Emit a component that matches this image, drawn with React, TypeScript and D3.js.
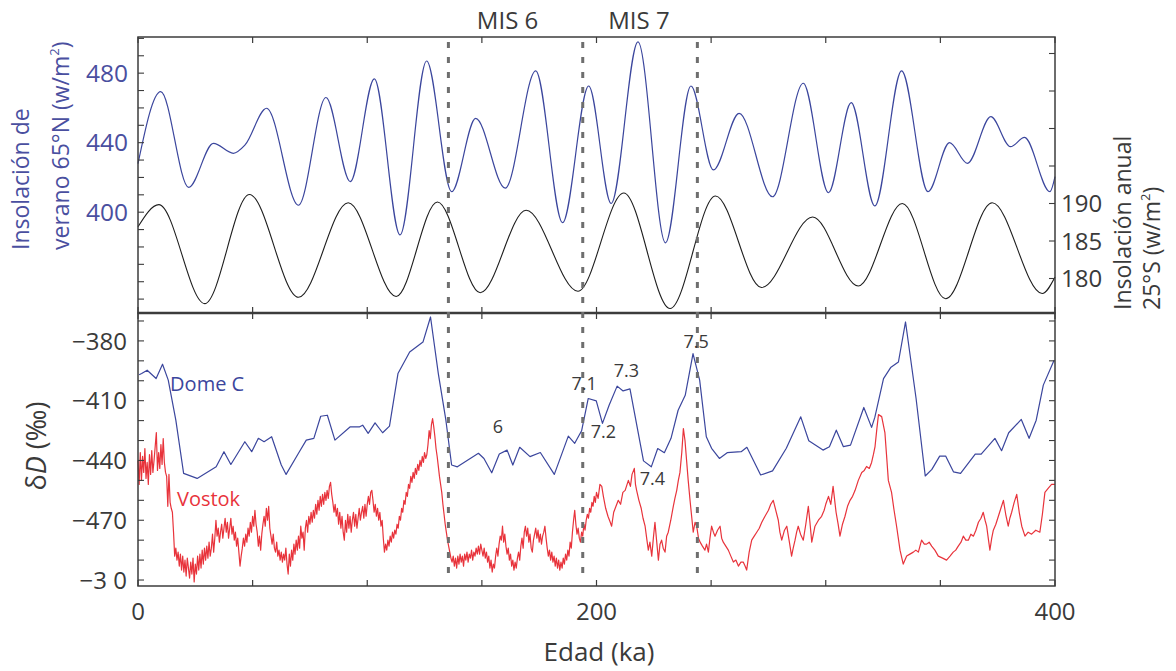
import React from 'react';
import * as d3 from 'd3';

// ---------------- data ----------------
const AGE_LABELS = [0, 200, 400];
const AGE_TICKS = [0, 50, 100, 150, 200, 250, 300, 350, 400];

const INS_LABELS = [480, 440, 400];
const ANN_LABELS = [190, 185, 180];
const DD_LABELS = [-380, -410, -440, -470, -500];
const DD_LABEL_TEXT = ['−380', '−410', '−440', '−470', '−3 0'];

const MIS_BOUNDARIES = [135.4, 194, 244];
const MIS_NAMES = ['MIS 6', 'MIS 7'];
const MIS_NAME_AGES = [161.2, 218.5];

const STAGE_NAMES = ['6', '7.1', '7.2', '7.3', '7.4', '7.5'];
const STAGE_AGES = [157, 194.6, 203, 213, 224.4, 243.5];
const STAGE_DD = [-426.3, -404.7, -428.9, -398.3, -452.3, -383.6];

// Summer insolation 65°N (W/m²) vs age (ka)
const INSOLATION_65N: [number, number][] = [
  [0, 428], [9.9, 469.4], [22.1, 414.3], [32.9, 439.6], [41.6, 433.9], [46.7, 438.7],
  [56.1, 459.8], [70, 404], [82, 466], [92.6, 417.6], [103.1, 476.7], [114.3, 386.9],
  [125.9, 487], [136.8, 411.8], [147.3, 454], [160.2, 413.8], [173.5, 481.3], [185.2, 394],
  [196.6, 472.6], [206.4, 405], [218.1, 498], [230.1, 382.4], [241.2, 472.6], [251, 424.3],
  [262.2, 456.9], [276.8, 408.9], [290.2, 474.2], [301.2, 411.2], [311.1, 463], [321.4, 403.6],
  [333.1, 481.3], [344.6, 411.8], [354, 440], [361.8, 428.1], [372, 455], [380.6, 437.7],
  [386.7, 443], [397.8, 411.8], [400, 420.4],
];

// Annual insolation 25°S (W/m²) vs age (ka)
const ANNUAL_25S: [number, number][] = [
  [0, 186.9], [9.1, 189.85], [29.1, 176.65], [48.6, 191.2], [70, 177.5], [91.7, 190.1],
  [112.6, 177.6], [130.6, 190.2], [149.3, 178.1], [169.3, 189.1], [191.9, 178.3], [211.9, 191.4],
  [232.1, 176], [251.9, 191], [272, 178.8], [294.3, 188.2], [314.2, 179], [333.4, 190],
  [352.3, 177.3], [372.6, 190.1], [394.4, 178], [400, 180.2],
];

// Dome C δD (‰)
const DOME_C: [number, number][] = [
  [0.5, -397], [1.6, -396.4], [4.0, -394.7], [7.9, -398.9], [10.7, -391.7], [13.2, -399.7], [16.5, -419.8],
  [19.9, -446.5], [25.8, -449], [34.1, -443.2], [37.5, -435.6], [40.5, -442], [46.6, -430.6],
  [49.6, -435.6], [52.5, -428.9], [55, -430.6], [58.3, -428.1], [62.5, -442.3], [64.6, -447],
  [70, -436.4], [73.4, -429.8], [76.7, -428.9], [79.7, -417.8], [82.6, -417.3], [85.9, -429.8],
  [92.6, -423.1], [96.7, -423.1], [98, -422.3], [100.4, -426.4], [103.4, -421.1], [106.7, -426.1],
  [109.7, -422.8], [113.4, -396.4], [118.5, -385.6], [124.3, -380.6], [127.6, -368], [131, -396.4],
  [134.3, -419.8], [136.8, -442.3], [139.3, -443.2], [148.5, -436.4], [150.9, -439], [154.3, -446.2],
  [157.6, -436.8], [161, -434.8], [163.5, -442.3], [166.5, -433.4], [171, -438.1], [175.5, -436],
  [181.6, -447], [187.7, -427.8], [190.5, -431.4], [193.5, -425.1], [196.4, -408.9], [199.9, -410.1],
  [202.6, -421.4], [205.5, -412.3], [209, -402.7], [211.6, -405.1], [214.6, -404.1], [220.5, -440.2],
  [223.9, -443.2], [226.7, -434], [229.6, -436.1], [232.5, -428.9], [235.6, -414.8], [238.7, -407.3],
  [242.1, -386.4], [245, -399.7], [247.9, -428.1], [250.2, -433.9], [253.6, -439], [257, -436.1],
  [263.1, -435.6], [265.6, -433.4], [271.6, -447.3], [276.8, -445.2], [282.8, -433.9], [289.1, -418.1],
  [292.6, -430.1], [298.8, -434.8], [301.6, -433.1], [304.6, -424.8], [307.7, -433.1], [310.8, -432.3],
  [316.6, -413.4], [320, -423.4], [321.4, -418.4], [325.2, -398.9], [328.3, -393.4], [331.7, -390.6],
  [334.8, -370.5], [339.4, -408.9], [343.4, -447.8], [346.3, -444.5], [349.7, -437.8], [352.3, -437.8],
  [355.7, -445.7], [358.8, -446.5], [365.2, -436.8], [367.8, -436.8], [373.8, -428.9], [376.7, -435.1],
  [379.8, -426.1], [385.3, -419.4], [388.7, -428.9], [391.8, -419.8], [394.9, -402.2], [399.6, -389.7],
];

// Vostok δD (‰)
const VOSTOK: [number, number][] = [
  [0, -440], [0.5, -452], [1, -436], [1.5, -450], [2, -438], [2.5, -446], [3, -434], [3.5, -449],
  [4, -441], [4.5, -452], [5, -437], [5.5, -447], [6, -435], [6.5, -446], [7, -440], [7.5, -433],
  [8, -426], [8.5, -445], [9, -436], [9.5, -444], [10, -432], [10.5, -442], [11, -429], [11.5, -441],
  [12, -446], [12.5, -448], [13, -463], [13.5, -447], [14, -461], [14.5, -464], [15, -466], [15.5, -476],
  [16, -488], [16.5, -484], [17, -490], [17.5, -486], [18, -493], [18.5, -487], [19, -495], [19.5, -488],
  [20, -496], [20.5, -490], [21, -498], [21.5, -489], [22, -494], [22.5, -499], [23, -491], [23.5, -497],
  [24, -489], [24.5, -501], [25, -492], [25.5, -497], [26, -488], [26.5, -495], [27, -487], [27.5, -494],
  [28, -485], [28.5, -492], [29, -484], [29.5, -490], [30, -483], [30.5, -489], [31, -481], [31.5, -488],
  [32, -484], [32.5, -477], [33, -486], [33.5, -479], [34, -470], [34.5, -478], [35, -474], [35.5, -481],
  [36, -476], [36.5, -472], [37, -479], [37.5, -474], [38, -469], [38.5, -476], [39, -471], [39.5, -479],
  [40, -474], [40.5, -469], [41, -477], [41.5, -473], [42, -480], [42.5, -476], [43, -483], [43.5, -479],
  [44, -486], [44.5, -493], [45, -488], [45.5, -484], [46, -479], [46.5, -483], [47, -477], [47.5, -481],
  [48, -474], [48.5, -478], [49, -471], [49.5, -476], [50, -468], [50.5, -473], [51, -465], [51.5, -472],
  [52, -476], [52.5, -483], [53, -478], [53.5, -485], [54, -477], [54.5, -472], [55, -468], [55.5, -473],
  [56, -464], [56.5, -470], [57, -463], [57.5, -474], [58, -478], [58.5, -482], [59, -477], [59.5, -484],
  [60, -486], [60.5, -481], [61, -488], [61.5, -485], [62, -490], [62.5, -486], [63, -491], [63.5, -487],
  [64, -490], [64.5, -484], [65, -492], [65.5, -497], [66, -487], [66.5, -493], [67, -485], [67.5, -490],
  [68, -482], [68.5, -487], [69, -480], [69.5, -485], [70, -478], [70.5, -484], [71, -473], [71.5, -479],
  [72, -476], [72.5, -485], [73, -474], [73.5, -470], [74, -476], [74.5, -468], [75, -472], [75.5, -466],
  [76, -471], [76.5, -465], [77, -469], [77.5, -462], [78, -467], [78.5, -460], [79, -465], [79.5, -458],
  [80, -463], [80.5, -457], [81, -462], [81.5, -456], [82, -460], [82.5, -455], [83, -459], [83.5, -453],
  [84, -451], [84.5, -457], [85, -461], [85.5, -466], [86, -462], [86.5, -468], [87, -464], [87.5, -472],
  [88, -466], [88.5, -474], [89, -468], [89.5, -476], [90, -480], [90.5, -470], [91, -476], [91.5, -467],
  [92, -474], [92.5, -468], [93, -476], [93.5, -470], [94, -466], [94.5, -473], [95, -467], [95.5, -474],
  [96, -469], [96.5, -464], [97, -470], [97.5, -466], [98, -463], [98.5, -469], [99, -462], [99.5, -468],
  [100, -462], [100.5, -458], [101, -462], [101.5, -456], [102, -455], [102.5, -460], [103, -466], [103.5, -462],
  [104, -468], [104.5, -464], [105, -470], [105.5, -466], [106, -473], [106.5, -470], [107, -479], [107.5, -486],
  [108, -482], [108.5, -485], [109, -480], [109.5, -483], [110, -478], [110.5, -481], [111, -476], [111.5, -479],
  [112, -475], [112.5, -477], [113, -472], [113.5, -474], [114, -468], [114.5, -470], [115, -464], [115.5, -466],
  [116, -460], [116.5, -462], [117, -456], [117.5, -458], [118, -452], [118.5, -454], [119, -448], [119.5, -451],
  [120, -446], [120.5, -449], [121, -444], [121.5, -447], [122, -442], [122.5, -445], [123, -440], [123.5, -443],
  [124, -438], [124.5, -441], [125, -436], [125.5, -439], [126, -437], [126.5, -432], [127, -425], [127.5, -429],
  [128, -422], [128.5, -419], [129, -423], [129.5, -428], [130, -434], [130.5, -438], [131, -443], [131.5, -448],
  [132, -452], [132.5, -456], [133, -462], [133.5, -467], [134, -472], [134.5, -476], [135, -480], [135.5, -483],
  [136, -486], [136.5, -489], [137, -491], [137.5, -488], [138, -493], [138.5, -489], [139, -494], [139.5, -488],
  [140, -492], [140.5, -487], [141, -491], [141.5, -488], [142, -493], [142.5, -487], [143, -490], [143.5, -486],
  [144, -491], [144.5, -487], [145, -489], [145.5, -485], [146, -490], [146.5, -486], [147, -488], [147.5, -484],
  [148, -487], [148.5, -483], [149, -487], [149.5, -482], [150, -485], [150.5, -488], [151, -484], [151.5, -489],
  [152, -486], [152.5, -491], [153, -488], [153.5, -494], [154, -490], [154.5, -496], [155, -492], [155.5, -494],
  [156, -488], [156.5, -484], [157, -488], [157.5, -482], [158, -478], [158.5, -480], [159, -473], [159.5, -481],
  [160, -477], [160.5, -483], [161, -487], [161.5, -484], [162, -490], [162.5, -487], [163, -493], [163.5, -490],
  [164, -495], [164.5, -491], [165, -494], [165.5, -489], [166, -486], [166.5, -490], [167, -483], [167.5, -479],
  [168, -484], [168.5, -476], [169, -473], [169.5, -478], [170, -474], [170.5, -481], [171, -477], [171.5, -484],
  [172, -486], [172.5, -480], [173, -477], [173.5, -474], [174, -479], [174.5, -475], [175, -481], [175.5, -477],
  [176, -482], [176.5, -478], [177, -476], [177.5, -473], [178, -479], [178.5, -484], [179, -488], [179.5, -485],
  [180, -490], [180.5, -486], [181, -491], [181.5, -488], [182, -493], [182.5, -489], [183, -494], [183.5, -490],
  [184, -495], [184.5, -491], [185, -494], [185.5, -489], [186, -492], [186.5, -487], [187, -490], [187.5, -485],
  [188, -488], [188.5, -481], [189, -484], [189.5, -476], [190, -470], [190.5, -465], [191, -472], [191.5, -477],
  [192, -474], [192.5, -479], [193, -481], [193.5, -476], [194, -478], [194.5, -472], [195, -475], [195.5, -470],
  [196, -467], [196.5, -469], [197, -464], [197.5, -466], [198, -461], [198.5, -463], [199, -458], [199.5, -461],
  [200, -456], [200.7, -459], [201.5, -452], [202.3, -453], [203, -458], [204, -464], [205, -468], [206, -471],
  [206.6, -473], [207.5, -466], [208.5, -463], [209.5, -460], [210.5, -462], [211.5, -456], [212.5, -455],
  [213.9, -450], [214.8, -453], [215.5, -447], [216.5, -444], [217, -452], [217.5, -455], [218.5, -460],
  [219.5, -464], [220.3, -469], [221.2, -473], [222, -480], [222.6, -485], [223.3, -481], [224.1, -488],
  [224.8, -479], [225.5, -471], [226.2, -480], [227, -490], [227.7, -482], [228.4, -480], [229.1, -484],
  [229.9, -486], [230.6, -478], [231.3, -476], [232.4, -470], [233.5, -463], [234.2, -459], [235, -455],
  [235.7, -450], [236.4, -446], [237.2, -436], [237.9, -424], [238.6, -430], [239.3, -440], [240, -450],
  [240.8, -460], [241.5, -468], [242.2, -476], [243, -471], [243.7, -473], [244.5, -479], [245.2, -481],
  [246.2, -483], [247.3, -485], [248, -482], [248.8, -486], [249.5, -479], [250.2, -473], [251, -476],
  [251.7, -478], [252.8, -475], [253.9, -473], [254.6, -479], [255.3, -481], [256.4, -483], [257.5, -485],
  [258.6, -488], [259.7, -491], [260.8, -490], [261.9, -493], [263, -491], [264, -491], [264.8, -493],
  [265.5, -495], [266.6, -486], [267.7, -480], [268.8, -478], [269.9, -476], [271, -474], [272.1, -471],
  [273.5, -468], [275, -465], [276, -462], [277.1, -460], [278.2, -465], [279.3, -470], [280, -476],
  [280.8, -480], [282, -475], [283, -473], [284, -480], [285.1, -488], [285.8, -484], [286.6, -480],
  [287.3, -476], [288, -473], [289, -477], [290.2, -480], [291.3, -472], [292.4, -463], [293.1, -471],
  [293.9, -481], [294.6, -477], [295.3, -473], [296.8, -470], [298.2, -468], [299.3, -465], [300, -462],
  [301.2, -458], [302.2, -462], [303.2, -453], [304.5, -466], [305.4, -472], [306.2, -478], [307.3, -472],
  [308.4, -468], [309.5, -463], [310.6, -460], [311.7, -458], [312.8, -455], [314.2, -450], [315.7, -446],
  [316.8, -445], [317.8, -443], [319, -444], [320, -441], [320.8, -437], [321.5, -433], [322.3, -424],
  [323, -417], [324.4, -418], [325.8, -426], [326.5, -437], [327.3, -450], [328.7, -456], [329.8, -465],
  [330.9, -473], [332.4, -485], [333.8, -492], [335.3, -488], [336.7, -487], [338.2, -486], [339.3, -485],
  [340.4, -486], [341.8, -480], [343, -482], [344, -482], [345.1, -481], [346.2, -483], [347.6, -485],
  [349.1, -488], [351, -489], [352.7, -490], [354.2, -488], [355.6, -486], [356.7, -485], [357.8, -483],
  [359, -481], [360, -478], [361.1, -480], [362.2, -480], [363.3, -477], [364.4, -478], [365.5, -475],
  [366.6, -471], [367.7, -469], [368.7, -466], [369.5, -470], [370.2, -473], [371, -480], [371.6, -485],
  [372.4, -479], [373.1, -475], [374.2, -472], [375.3, -468], [376.4, -464], [377.5, -460], [378.5, -467],
  [379.6, -473], [380.3, -469], [381.1, -466], [382.2, -461], [383.3, -457], [384.4, -466], [385.5, -473],
  [386.9, -478], [388.3, -476], [389.8, -477], [391.6, -475], [393.4, -476], [394.5, -467], [395.6, -456],
  [397, -454], [398.5, -452], [400, -452],
];

// ---------------- layout ----------------
const W = 1176;
const H = 671;
const X0 = 138;
const X1 = 1055;
const TOP0 = 37;
const MID = 313;
const BOT = 586;
const FONT = "'Open Sans', 'DejaVu Sans', sans-serif";
const BLUE_TXT = '#4a4f9f';
const BLUE_LINE = '#3b469d';
const RED = '#e8333b';
const DARK = '#3a3a3a';
const AXIS = '#3c3c3c';

export default function App() {
  const x = d3.scaleLinear().domain([0, 400]).range([X0, X1]);
  const yIns = d3.scaleLinear().domain([342, 500.8]).range([MID, TOP0]);
  const yAnn = d3.scaleLinear().domain([175.4, 212.2]).range([MID, TOP0]);
  const yDD = d3.scaleLinear().domain([-503, -366]).range([BOT, MID]);

  const insLine = d3.line<[number, number]>().x((d) => x(d[0])).y((d) => yIns(d[1])).curve(d3.curveMonotoneX);
  const annLine = d3.line<[number, number]>().x((d) => x(d[0])).y((d) => yAnn(d[1])).curve(d3.curveMonotoneX);
  const ddLine = d3.line<[number, number]>().x((d) => x(d[0])).y((d) => yDD(d[1]));

  const insMinor = d3.range(350, 501, 10);
  const annMinor = d3.range(180, 211, 5);
  const ddMinor = d3.range(-500, -369, 10);
  const TL = 6;

  return (
    <svg
      width={W}
      height={H}
      viewBox={`0 0 ${W} ${H}`}
      style={{ position: 'absolute', left: 0, top: 0, background: '#fff' }}
      fontFamily={FONT}
    >
      <rect x={0} y={0} width={W} height={H} fill="#fff" />

      {/* curves */}
      <path d={insLine(INSOLATION_65N) || ''} fill="none" stroke={BLUE_LINE} strokeWidth={1.2} />
      <path d={annLine(ANNUAL_25S) || ''} fill="none" stroke="#1e1e1e" strokeWidth={1.1} />
      <path d={ddLine(VOSTOK) || ''} fill="none" stroke={RED} strokeWidth={1.2} strokeLinejoin="round" />
      <path d={ddLine(DOME_C) || ''} fill="none" stroke={BLUE_LINE} strokeWidth={1.2} strokeLinejoin="round" />

      {/* panel frames */}
      <rect x={X0} y={TOP0} width={X1 - X0} height={MID - TOP0} fill="none" stroke={AXIS} strokeWidth={1.5} />
      <rect x={X0} y={MID} width={X1 - X0} height={BOT - MID} fill="none" stroke={AXIS} strokeWidth={1.5} />
      <line x1={X0} x2={X1} y1={MID} y2={MID} stroke={AXIS} strokeWidth={2.5} />

      {/* x ticks on all horizontal borders (inward) */}
      {AGE_TICKS.map((a) => (
        <g key={`xt${a}`} stroke={AXIS} strokeWidth={1.2}>
          <line x1={x(a)} x2={x(a)} y1={TOP0} y2={TOP0 + TL} />
          <line x1={x(a)} x2={x(a)} y1={MID} y2={MID - TL} />
          <line x1={x(a)} x2={x(a)} y1={MID} y2={MID + TL} />
          <line x1={x(a)} x2={x(a)} y1={BOT} y2={BOT - TL} />
        </g>
      ))}

      {/* y ticks */}
      {insMinor.map((v) => (
        <line key={`it${v}`} x1={X0} x2={X0 + TL} y1={yIns(v)} y2={yIns(v)} stroke={AXIS} strokeWidth={1.1} />
      ))}
      {annMinor.map((v) => (
        <line key={`at${v}`} x1={X1} x2={X1 - TL} y1={yAnn(v)} y2={yAnn(v)} stroke={AXIS} strokeWidth={1.1} />
      ))}
      {ddMinor.map((v) => (
        <g key={`dt${v}`} stroke={AXIS} strokeWidth={1.1}>
          <line x1={X0} x2={X0 + TL} y1={yDD(v)} y2={yDD(v)} />
          <line x1={X1} x2={X1 - TL} y1={yDD(v)} y2={yDD(v)} />
        </g>
      ))}

      {/* MIS boundaries */}
      {MIS_BOUNDARIES.map((a) => (
        <line
          key={`mb${a}`}
          x1={x(a)}
          x2={x(a)}
          y1={TOP0 + 5}
          y2={BOT - 4}
          stroke="#6e6e6e"
          strokeWidth={3}
          strokeDasharray="6 9"
        />
      ))}

      {/* tick labels */}
      {INS_LABELS.map((v) => (
        <text key={`il${v}`} x={128} y={yIns(v)} dy="0.36em" textAnchor="end" fontSize={24.5} fill={BLUE_TXT}>
          {v}
        </text>
      ))}
      {ANN_LABELS.map((v) => (
        <text key={`al${v}`} x={1061} y={yAnn(v)} dy="0.36em" textAnchor="start" fontSize={24} fill={DARK}>
          {v}
        </text>
      ))}
      {DD_LABELS.map((v, i) => (
        <text key={`dl${v}`} x={127} y={yDD(v)} dy="0.36em" textAnchor="end" fontSize={24} fill={DARK}>
          {DD_LABEL_TEXT[i]}
        </text>
      ))}
      {AGE_LABELS.map((a) => (
        <text key={`xl${a}`} x={x(a)} y={620} textAnchor="middle" fontSize={24} fill={DARK}>
          {a}
        </text>
      ))}

      {/* axis titles */}
      <text x={599} y={661} textAnchor="middle" fontSize={26} fill={DARK}>
        Edad (ka)
      </text>
      <text transform="translate(46,446) rotate(-90)" textAnchor="middle" fontSize={27} fill={DARK}>
        δ<tspan fontStyle="italic">D</tspan> (‰)
      </text>
      <text transform="translate(28.5,250) rotate(-90)" textAnchor="start" fontSize={23} fill={BLUE_TXT}>
        Insolación de
      </text>
      <text transform="translate(69,250) rotate(-90)" textAnchor="start" fontSize={23} fill={BLUE_TXT}>
        verano 65°N (w/m<tspan fontSize={13} dy={-10}>2</tspan><tspan dy={10}>)</tspan>
      </text>
      <text transform="translate(1131,310) rotate(-90)" textAnchor="start" fontSize={23} fill={DARK}>
        Insolación anual
      </text>
      <text transform="translate(1160,310) rotate(-90)" textAnchor="start" fontSize={23} fill={DARK}>
        25°S (w/m<tspan fontSize={13} dy={-10}>2</tspan><tspan dy={10}>)</tspan>
      </text>

      {/* MIS names */}
      {MIS_NAMES.map((n, i) => (
        <text key={n} x={x(MIS_NAME_AGES[i])} y={28.5} textAnchor="middle" fontSize={24} fill={DARK}>
          {n}
        </text>
      ))}

      {/* stage labels */}
      {STAGE_NAMES.map((n, i) => (
        <text key={`s${n}`} x={x(STAGE_AGES[i])} y={yDD(STAGE_DD[i])} textAnchor="middle" fontSize={18} fill={DARK}>
          {n}
        </text>
      ))}

      {/* series labels */}
      <text x={x(14)} y={yDD(-405.2)} fontSize={20} fill={BLUE_LINE}>
        Dome C
      </text>
      <text x={x(17)} y={yDD(-462.9)} fontSize={20} fill={RED}>
        Vostok
      </text>
    </svg>
  );
}
